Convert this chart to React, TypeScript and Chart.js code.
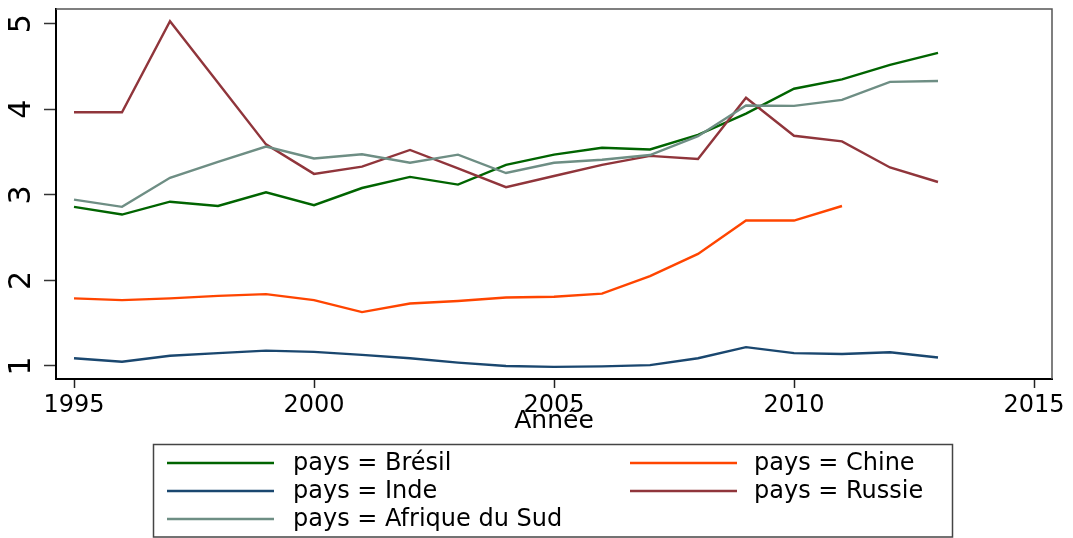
import { useEffect, useRef } from "react";
import { Chart, registerables } from "chart.js";

Chart.register(...registerables);

const years = [1995, 1996, 1997, 1998, 1999, 2000, 2001, 2002, 2003, 2004, 2005, 2006, 2007, 2008, 2009, 2010, 2011, 2012, 2013];
const bresil = [2.86, 2.77, 2.92, 2.87, 3.03, 2.88, 3.08, 3.21, 3.12, 3.35, 3.47, 3.55, 3.53, 3.7, 3.95, 4.24, 4.35, 4.52, 4.66];
const chine = [1.79, 1.77, 1.79, 1.82, 1.84, 1.77, 1.63, 1.73, 1.76, 1.8, 1.81, 1.845, 2.05, 2.31, 2.7, 2.7, 2.87];
const inde = [1.09, 1.05, 1.12, 1.15, 1.18, 1.165, 1.13, 1.09, 1.04, 1.0, 0.99, 0.995, 1.01, 1.09, 1.22, 1.15, 1.14, 1.16, 1.1];
const russie = [3.965, 3.965, 5.03, 4.31, 3.59, 3.245, 3.33, 3.525, 3.31, 3.09, 3.22, 3.35, 3.455, 3.42, 4.135, 3.69, 3.625, 3.32, 3.15];
const afriqueDuSud = [2.945, 2.86, 3.2, 3.385, 3.565, 3.425, 3.475, 3.375, 3.47, 3.255, 3.375, 3.41, 3.465, 3.685, 4.045, 4.04, 4.11, 4.32, 4.33];

const seriesLabels = ["pays = Brésil", "pays = Chine", "pays = Inde", "pays = Russie", "pays = Afrique du Sud"];
const seriesColors = ["#006400", "#ff4500", "#1a476f", "#90353b", "#6e8e84"];
const seriesValues = [bresil, chine, inde, russie, afriqueDuSud];

const xTicks = [1995, 2000, 2005, 2010, 2015];
const yTicks = [1, 2, 3, 4, 5];
const xTitle = "Année";

const FONT = "'DejaVu Sans', Verdana, sans-serif";

const framePlugin = {
  id: "frame",
  afterDraw(chart: any) {
    const { ctx, chartArea } = chart;
    ctx.save();
    ctx.strokeStyle = "#555";
    ctx.lineWidth = 1.5;
    ctx.beginPath();
    ctx.moveTo(chartArea.left, chartArea.top);
    ctx.lineTo(chartArea.right, chartArea.top);
    ctx.lineTo(chartArea.right, chartArea.bottom);
    ctx.stroke();
    ctx.restore();
  },
};

const legendPlugin = {
  id: "stataLegend",
  afterDraw(chart: any) {
    const { ctx } = chart;
    ctx.save();
    ctx.strokeStyle = "#444";
    ctx.lineWidth = 1.5;
    ctx.strokeRect(153.5, 444.5, 799, 92.5);
    const colLine = [167, 630];
    const colText = [293, 754];
    const rowY = [463, 491, 519];
    ctx.font = `24px ${FONT}`;
    ctx.textBaseline = "middle";
    ctx.textAlign = "left";
    chart.data.datasets.forEach((ds: any, i: number) => {
      const c = i % 2;
      const r = Math.floor(i / 2);
      const y = rowY[r];
      ctx.strokeStyle = ds.borderColor;
      ctx.lineWidth = 2.4;
      ctx.beginPath();
      ctx.moveTo(colLine[c], y);
      ctx.lineTo(colLine[c] + 107, y);
      ctx.stroke();
      ctx.fillStyle = "#000";
      ctx.fillText(ds.label, colText[c], y + 1);
    });
    ctx.restore();
  },
};

export default function App() {
  const ref = useRef<HTMLCanvasElement | null>(null);

  useEffect(() => {
    if (!ref.current) return;
    const datasets = seriesValues.map((vals, i) => ({
      label: seriesLabels[i],
      data: vals.map((v, j) => ({ x: years[j], y: v })),
      borderColor: seriesColors[i],
      backgroundColor: seriesColors[i],
      borderWidth: 2.4,
      pointRadius: 0,
      tension: 0,
      fill: false,
      order: seriesValues.length - i,
    }));
    const chart = new Chart(ref.current, {
      type: "line",
      data: { datasets },
      plugins: [framePlugin, legendPlugin],
      options: {
        animation: false,
        responsive: false,
        layout: { padding: { left: 0, top: 9, right: 21, bottom: 99 } },
        plugins: {
          legend: { display: false },
          tooltip: { enabled: false },
        },
        scales: {
          x: {
            type: "linear",
            min: 1994.625,
            max: 2015.375,
            afterBuildTicks: (s: any) => {
              s.ticks = xTicks.map((v) => ({ value: v }));
            },
            afterFit: (s: any) => {
              s.height = 60;
              s.paddingLeft = 0;
              s.paddingRight = 0;
            },
            ticks: {
              autoSkip: false,
              maxRotation: 0,
              minRotation: 0,
              padding: 3,
              color: "#000",
              font: { size: 24, family: FONT },
              callback: (v: any) => String(v),
            },
            grid: {
              drawOnChartArea: false,
              drawTicks: true,
              tickLength: 9,
              tickWidth: 1.5,
              tickColor: "#222",
            },
            border: { display: true, color: "#000", width: 2 },
            title: {
              display: true,
              text: xTitle,
              color: "#000",
              font: { size: 25, family: FONT },
              padding: { top: 0, bottom: 3 },
            },
          },
          y: {
            type: "linear",
            min: 0.848,
            max: 5.172,
            afterBuildTicks: (s: any) => {
              s.ticks = yTicks.map((v) => ({ value: v }));
            },
            afterFit: (s: any) => {
              s.width = 56;
              s.paddingTop = 0;
              s.paddingBottom = 0;
            },
            ticks: {
              minRotation: 90,
              maxRotation: 90,
              crossAlign: "center",
              padding: 12,
              color: "#000",
              font: { size: 30, family: FONT },
              callback: (v: any) => String(v),
            },
            grid: {
              drawOnChartArea: false,
              drawTicks: true,
              tickLength: 12,
              tickWidth: 1.5,
              tickColor: "#333",
            },
            border: { display: true, color: "#000", width: 2 },
          },
        },
      },
    } as any);
    return () => chart.destroy();
  }, []);

  return (
    <div style={{ position: "absolute", left: 0, top: 0, width: 1073, height: 538, background: "#fff" }}>
      <canvas ref={ref} width={1073} height={538} style={{ display: "block" }} />
    </div>
  );
}
